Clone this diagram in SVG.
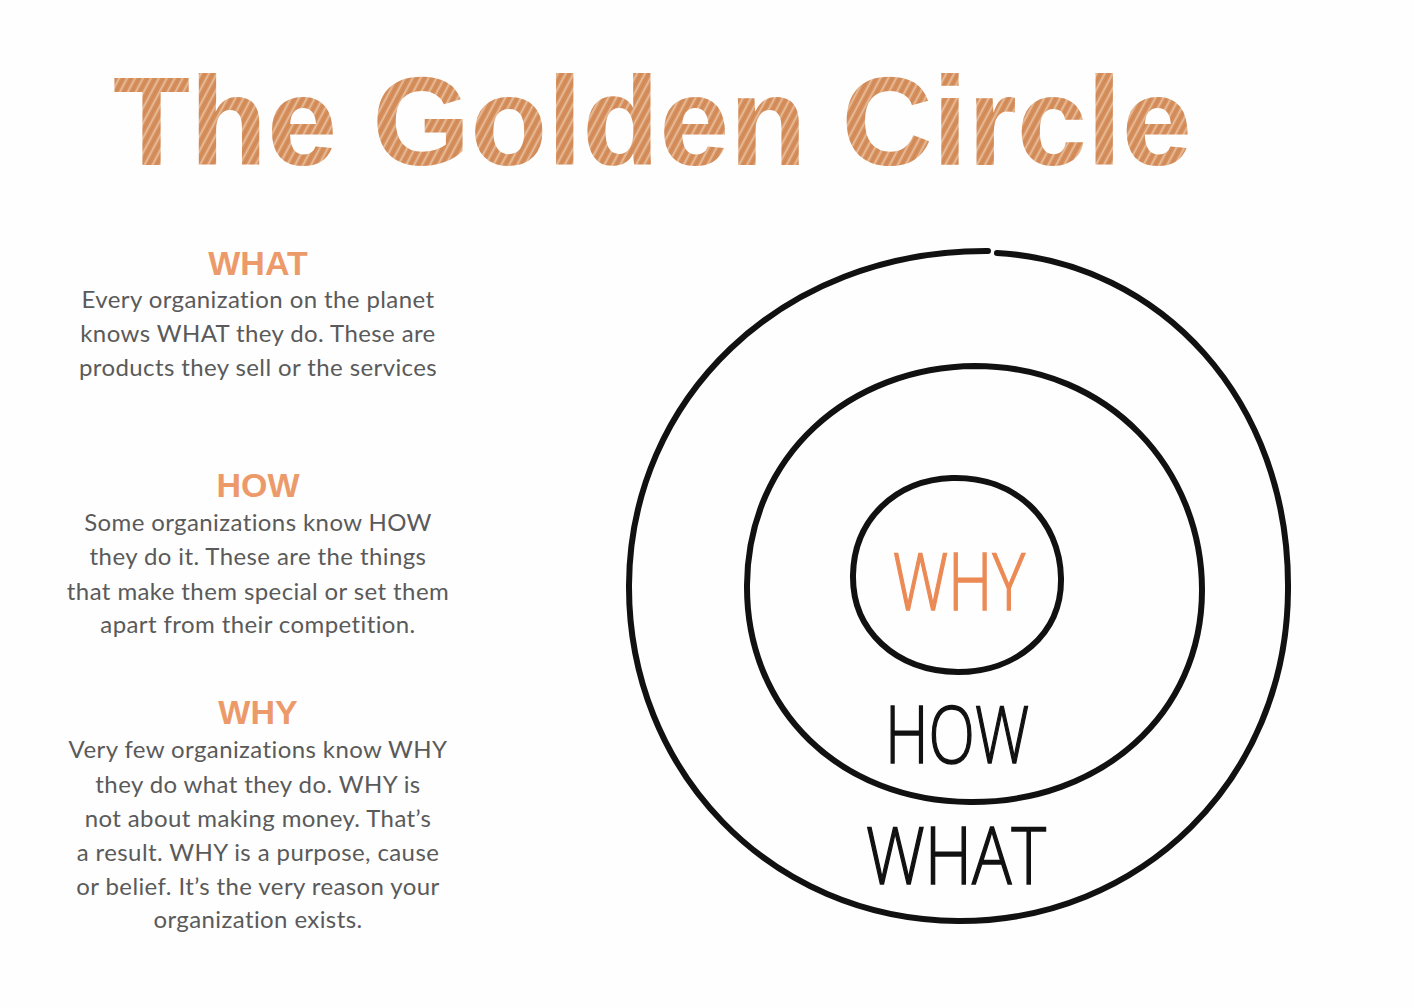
<svg xmlns="http://www.w3.org/2000/svg" width="1414" height="1008" viewBox="0 0 1414 1008">
<defs>
<pattern id="hatch" width="7" height="7" patternUnits="userSpaceOnUse" patternTransform="rotate(-62)">
<rect width="7" height="7" fill="#d5905e"/>
<line x1="0" y1="2" x2="7" y2="2" stroke="#eac1a0" stroke-width="1.6"/>
<line x1="0" y1="5.5" x2="7" y2="5.5" stroke="#cf8552" stroke-width="1"/>
</pattern>
<style>
.title{font-family:"Liberation Sans",Arial,sans-serif;font-weight:bold;font-size:126px;fill:url(#hatch);}
.head{font-family:"Liberation Sans",Arial,sans-serif;font-weight:bold;font-size:34px;fill:#ec9a6a;text-anchor:middle;}
.body{font-family:Lato,"Open Sans",sans-serif;font-size:24px;letter-spacing:0.4px;fill:#5a5a5a;text-anchor:middle;}
.ring{fill:none;stroke:#111;stroke-width:6;stroke-linecap:round;stroke-linejoin:round;}
.hand{font-family:"Open Sans","DejaVu Sans",sans-serif;font-weight:300;font-size:80px;text-anchor:middle;stroke-width:1.5;}
</style>
</defs>
<rect width="1414" height="1008" fill="#fefefe"/>

<g id="title">
<text class="title" x="113" y="165" textLength="1079" lengthAdjust="spacingAndGlyphs">The Golden Circle</text>
</g>

<g id="what-block">
<text class="head" x="258" y="275">WHAT</text>
<text class="body" x="258" y="308">Every organization on the planet</text>
<text class="body" x="258" y="342">knows WHAT they do. These are</text>
<text class="body" x="258" y="376">products they sell or the services</text>
</g>

<g id="how-block">
<text class="head" x="258" y="497">HOW</text>
<text class="body" x="258" y="531">Some organizations know HOW</text>
<text class="body" x="258" y="565">they do it. These are the things</text>
<text class="body" x="258" y="600">that make them special or set them</text>
<text class="body" x="258" y="633">apart from their competition.</text>
</g>

<g id="why-block">
<text class="head" x="258" y="724">WHY</text>
<text class="body" x="258" y="758">Very few organizations know WHY</text>
<text class="body" x="258" y="793">they do what they do. WHY is</text>
<text class="body" x="258" y="827">not about making money. That’s</text>
<text class="body" x="258" y="861">a result. WHY is a purpose, cause</text>
<text class="body" x="258" y="895">or belief. It’s the very reason your</text>
<text class="body" x="258" y="928">organization exists.</text>
</g>

<g id="connectors"></g>

<g id="circle-what">
<path class="ring" d="M997,253 C1160,262 1290,400 1288,590 C1287,780 1140,922 958,921 C770,920 628,770 629,585 C630,400 780,250 988,251"/>
<text class="hand" x="956" y="884" fill="#111" stroke="#111" textLength="180" lengthAdjust="spacingAndGlyphs">WHAT</text>
</g>

<g id="circle-how">
<path class="ring" d="M975,366 C1110,366 1202,470 1202,590 C1202,715 1100,803 970,802 C840,801 746,710 747,585 C748,455 850,367 975,366 Z"/>
<text class="hand" x="957" y="763" fill="#111" stroke="#111" textLength="144" lengthAdjust="spacingAndGlyphs">HOW</text>
</g>

<g id="circle-why">
<path class="ring" d="M952,478 C1015,476 1060,520 1061,578 C1062,635 1015,672 958,672 C895,671 852,630 853,575 C854,520 895,480 952,478 Z"/>
<text class="hand" x="959" y="610" fill="#eb8a55" stroke="#eb8a55" textLength="132" lengthAdjust="spacingAndGlyphs">WHY</text>
</g>
</svg>
